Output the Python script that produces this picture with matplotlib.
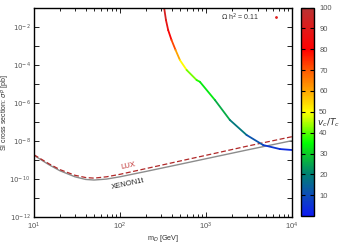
import numpy as np
import matplotlib
matplotlib.use('Agg')
import matplotlib.pyplot as plt
from matplotlib.collections import LineCollection
from matplotlib.colors import LinearSegmentedColormap, Normalize
from matplotlib.ticker import LogLocator, FixedLocator, NullFormatter

plt.rcParams['font.family'] = ['Liberation Sans', 'DejaVu Sans']

# scan points: mass [GeV], log10 sigma [pb], v_c/T_c
scan_m = [327, 343, 364, 398, 444, 499, 597, 780, 851, 1273, 1900, 2972, 4634, 7244, 10000]
scan_logsig = [-1.0, -1.63, -2.16, -2.68, -3.21, -3.74, -4.26, -4.79, -4.88, -5.84, -6.89, -7.68, -8.21, -8.42, -8.47]
scan_vt = [95, 90, 85, 78, 66, 55, 45, 38, 36, 30, 22, 15, 8, 4, 3]

# direct detection limits
lim_m = [10, 15, 20, 30, 40, 50, 70, 100, 200, 500, 1000, 3000, 10000]
lux_log = [-8.72, -9.2, -9.5, -9.8, -9.92, -9.95, -9.88, -9.75, -9.45, -9.05, -8.75, -8.27, -7.77]
xenon_log = [-8.75, -9.25, -9.56, -9.88, -10.02, -10.05, -10.0, -9.88, -9.6, -9.22, -8.93, -8.47, -7.98]

palette = LinearSegmentedColormap.from_list('vt', [
    (0.00, (0.05, 0.10, 0.95)),
    (0.10, (0.05, 0.30, 0.72)),
    (0.20, (0.00, 0.50, 0.45)),
    (0.30, (0.05, 0.80, 0.15)),
    (0.35, (0.00, 1.00, 0.00)),
    (0.45, (0.70, 1.00, 0.00)),
    (0.50, (1.00, 1.00, 0.00)),
    (0.60, (1.00, 0.65, 0.00)),
    (0.70, (1.00, 0.35, 0.00)),
    (0.80, (1.00, 0.00, 0.00)),
    (0.90, (0.88, 0.10, 0.10)),
    (1.00, (0.72, 0.20, 0.20)),
])
norm = Normalize(0, 100)

fig = plt.figure(figsize=(3.5, 2.45), dpi=100)
ax = fig.add_axes([0.097, 0.114, 0.737, 0.853])

lux = 10.0 ** np.array(lux_log)
xen = 10.0 ** np.array(xenon_log)
ax.plot(lim_m, xen, color='#8c8c8c', lw=1.0)
ax.plot(lim_m, lux, color='#b02828', lw=0.9, ls=(0, (4, 2)))

pts = np.column_stack([np.log10(scan_m), np.array(scan_logsig)])
segs = [[(10 ** pts[i, 0], 10 ** pts[i, 1]), (10 ** pts[i + 1, 0], 10 ** pts[i + 1, 1])]
        for i in range(len(pts) - 1)]
vals = [(scan_vt[i] + scan_vt[i + 1]) / 2 for i in range(len(pts) - 1)]
lc = LineCollection(segs, cmap=palette, norm=norm, linewidths=1.3, capstyle='round')
lc.set_array(np.array(vals))
ax.add_collection(lc)

ax.set_xscale('log')
ax.set_yscale('log')
ax.set_xlim(10, 1e4)
ax.set_ylim(1e-12, 1e-1)

ax.set_yticks([10.0 ** k for k in range(-12, 0)])
ax.set_yticklabels(['$10^{%d}$' % k if k % 2 == 0 else '' for k in range(-12, 0)])
ax.yaxis.set_minor_locator(FixedLocator([]))
ax.xaxis.set_minor_locator(LogLocator(base=10, subs=np.arange(2, 10)))
ax.xaxis.set_minor_formatter(NullFormatter())

ax.tick_params(which='both', direction='in', top=True, right=True, labelsize=5.5,
               colors='#222222', labelcolor='#555555', width=0.7)
ax.tick_params(axis='y', labelsize=5)
ax.tick_params(which='major', length=3.5, pad=2.5)
ax.tick_params(which='minor', length=2)
for s in ax.spines.values():
    s.set_linewidth(1.0)

ax.set_xlabel('m$_D$ [GeV]', fontsize=5.2, color='#333333', labelpad=1)
fig.text(0.016, 0.54, 'SI cross section: $\\sigma^p$ [pb]', fontsize=5, color='#333333',
         rotation=90, ha='center', va='center')

ax.text(125, 5e-10, 'LUX', color='#c03030', fontsize=5.5, rotation=12, ha='center', va='center')
ax.text(125, 5.5e-11, 'XENON1t', color='#222222', fontsize=5.5, rotation=12, ha='center', va='center')
ax.text(0.87, 0.955, '$\\Omega$ h$^2$ = 0.11', transform=ax.transAxes, fontsize=5,
        ha='right', va='center', color='#333333')
ax.plot([0.94], [0.955], transform=ax.transAxes, marker='.', ms=2, color='#e02020', ls='none')

cax = fig.add_axes([0.861, 0.118, 0.037, 0.851])
cb = fig.colorbar(plt.cm.ScalarMappable(norm=norm, cmap=palette), cax=cax)
cb.set_ticks(range(10, 101, 10))
cb.outline.set_linewidth(1.0)
cax.tick_params(direction='in', length=3, width=0.8, labelsize=5.5, labelcolor='#555555',
                left=True, right=True)
fig.text(0.938, 0.5, '$v_c/T_c$', fontsize=6.5, ha='center', va='center', color='#333333')

fig.savefig('out.png', dpi=100)
